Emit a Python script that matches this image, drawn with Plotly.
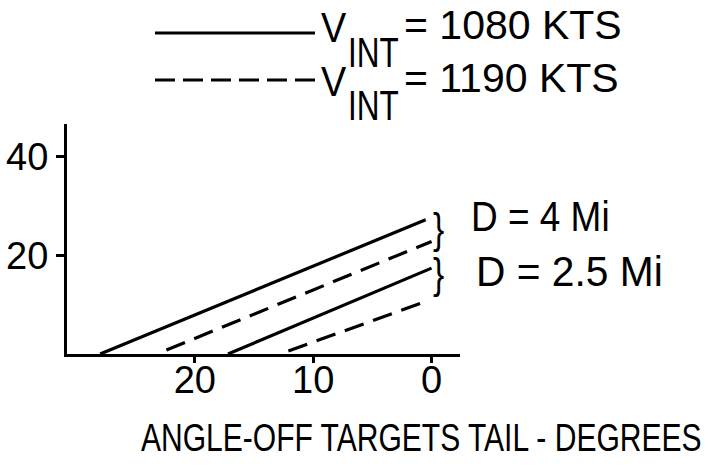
import plotly.graph_objects as go

# Data
angle_1080_d4 = [28.0, 0.5]
alt_1080_d4 = [0.0, 27.2]
angle_1190_d4 = [22.4, 0.0]
alt_1190_d4 = [0.8, 22.8]
angle_1080_d25 = [17.2, 0.0]
alt_1080_d25 = [0.0, 17.4]
angle_1190_d25 = [12.1, 0.3]
alt_1190_d25 = [0.6, 10.8]

x_ticks = [20, 10, 0]
x_tick_labels = ["20", "10", "0"]
y_ticks = [20, 40]
y_tick_labels = ["20", "40"]

FONT = "Liberation Sans, Arial, sans-serif"

fig = go.Figure()
series = [
    (angle_1080_d4, alt_1080_d4, "solid"),
    (angle_1190_d4, alt_1190_d4, "20px,10px"),
    (angle_1080_d25, alt_1080_d25, "solid"),
    (angle_1190_d25, alt_1190_d25, "20px,10px"),
]
for xs, ys, dash in series:
    fig.add_trace(go.Scatter(x=xs, y=ys, mode="lines",
                             line=dict(color="black", width=3.2, dash=dash),
                             showlegend=False, hoverinfo="skip"))

L, R, T, B = 67, 460, 124, 354
W, H = 710, 467

def px(x):
    return (x - L) / (R - L)

def py(y):
    return (B - y) / (B - T)

fig.update_layout(
    width=W, height=H,
    margin=dict(l=L, r=W - R, t=T, b=H - B, autoexpand=False),
    paper_bgcolor="white", plot_bgcolor="white",
    font=dict(family=FONT, color="black"),
    showlegend=False,
    xaxis=dict(range=[30.8, -2.4], showgrid=False, zeroline=False, automargin=False,
               showline=True, linecolor="black", linewidth=3,
               tickmode="array", tickvals=x_ticks, ticktext=x_tick_labels,
               ticks="outside", ticklen=6, tickwidth=3, tickcolor="black",
               ticklabelstandoff=-16,
               tickfont=dict(size=38, family=FONT)),
    yaxis=dict(range=[0, 46.6], showgrid=False, zeroline=False, automargin=False,
               showline=True, linecolor="black", linewidth=3,
               tickmode="array", tickvals=y_ticks, ticktext=y_tick_labels,
               ticks="outside", ticklen=8, tickwidth=3, tickcolor="black",
               ticklabelstandoff=0,
               tickfont=dict(size=38, family=FONT)),
)

# Legend lines
fig.add_shape(type="line", xref="paper", yref="paper",
              x0=px(155), x1=px(315), y0=py(33), y1=py(33),
              line=dict(color="black", width=3))
fig.add_shape(type="line", xref="paper", yref="paper",
              x0=px(155), x1=px(318), y0=py(80), y1=py(80),
              line=dict(color="black", width=3, dash="20px,8px"))

scales = []

def ann(text, x, y, size, sx=1.0):
    fig.add_annotation(text=text, xref="paper", yref="paper",
                       x=px(x), y=py(y), xanchor="left", yanchor="middle",
                       align="left", showarrow=False, borderpad=0,
                       font=dict(size=size, family=FONT, color="black"))
    scales.append(sx)

for (row_y, label) in [(28, "= 1080 KTS"), (81, "= 1190 KTS")]:
    ann("V", 320, row_y, 42, 0.9)
    ann("INT", 347, row_y + 24, 42, 0.75)
    ann(label, 403, row_y - 3, 41, 1.0)

ann("}", 432, 228, 42, 0.8)
ann("}", 432, 273, 42, 0.8)
ann("D = 4 Mi", 470, 216, 42, 0.88)
ann("D = 2.5 Mi", 475, 271, 42, 0.97)

ann("ANGLE-OFF TARGETS TAIL - DEGREES", 140, 437, 39, 0.77)

css = ["body{margin:0 !important;}"]
for i, s in enumerate(scales):
    if s != 1.0:
        css.append('.annotation[data-index="%d"] text{transform:scaleX(%.3f);'
                   'transform-box:fill-box;transform-origin:0%% 50%%;}' % (i, s))
post = ("var st=document.createElement('style');st.textContent=%r;"
        "document.head.appendChild(st);" % "".join(css))

fig.write_html("out.html", post_script=post, config={"displayModeBar": False})
